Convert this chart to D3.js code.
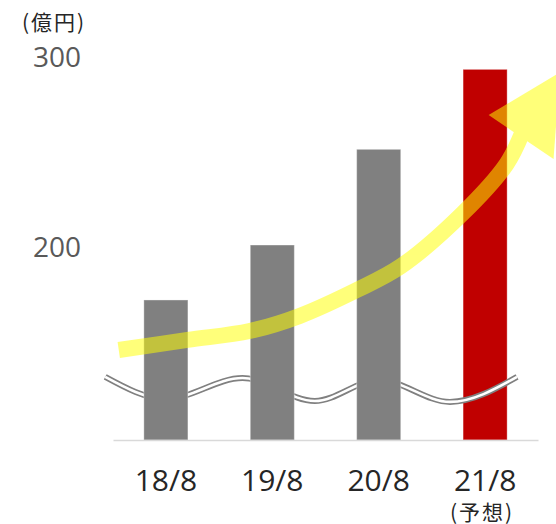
<!DOCTYPE html>
<html>
<head>
<meta charset="utf-8">
<script src="https://cdn.jsdelivr.net/npm/d3@7"></script>
<style>
  body { margin: 0; background: #fff; }
</style>
</head>
<body>
<div id="chartDiv"></div>
<script>

var categories = ["18/8", "19/8", "20/8", "21/8"];
var values = [172.3, 201.3, 251.8, 294.0];
var forecast = [false, false, false, true];
var yTicks = [200, 300];
var unitLabel = "(億円)";
var noteLabel = "(予想)";

// break mark across the axis (category position, value)
var waveIdx = [-0.57, 0, 0.72, 1.40, 2.0, 2.67, 3.30];
var waveVal = [131.7, 120.1, 131.1, 119.0, 130.1, 118.5, 131.7];

// growth arrow (category position, value)
var arrowIdx = [-0.443, 0.204, 0.787, 1.257, 1.792, 2.206, 2.789, 3.202, 3.345];
var arrowVal = [145.9, 151.2, 155.9, 163.9, 177.5, 190.0, 218.0, 244.1, 260.0];
var headIdx = [3.033, 3.704, 3.643];
var headVal = [269.9, 292.5, 246.7];

var svg = d3.select("#chartDiv").append("svg")
    .attr("width", 556)
    .attr("height", 524);

var x = d3.scaleBand()
    .domain(categories)
    .range([113, 538])
    .paddingInner(0.586)
    .paddingOuter(0.29);

var y = d3.scaleLinear()
    .domain([98.4, 300])
    .range([440, 58]);

function pos(i) {
  return x(categories[0]) + x.bandwidth() / 2 + i * x.step();
}

var bars = categories.map(function(c, i) { return {cat: c, v: values[i], f: forecast[i]}; });

function drawBars(g, data) {
  g.selectAll("rect").data(data).enter().append("rect")
    .attr("x", function(d) { return x(d.cat); })
    .attr("y", function(d) { return y(d.v); })
    .attr("width", x.bandwidth())
    .attr("height", function(d) { return y.range()[0] - y(d.v); })
    .attr("fill", function(d) { return d.f ? "#c00000" : "#808080"; })
    .attr("stroke", "#fff")
    .attr("stroke-opacity", 0.35)
    .attr("stroke-width", 1);
}

// forecast bar sits under the break mark, the others above it
drawBars(svg.append("g"), bars.filter(function(d) { return d.f; }));

var wave = d3.line()
    .x(function(d, i) { return pos(waveIdx[i]); })
    .y(function(d) { return y(d); })
    .curve(d3.curveMonotoneX);

var waveG = svg.append("g").attr("fill", "none");
waveG.append("path").attr("d", wave(waveVal)).attr("stroke", "#808080").attr("stroke-width", 6);
waveG.append("path").attr("d", wave(waveVal)).attr("stroke", "#fff").attr("stroke-width", 2.6);

drawBars(svg.append("g"), bars.filter(function(d) { return !d.f; }));

// axes
var xAxis = svg.append("g")
    .attr("transform", "translate(0,440)")
    .call(d3.axisBottom(x).tickSize(0).tickSizeOuter(0).tickPadding(30));
xAxis.select(".domain").attr("stroke", "#d9d9d9").attr("stroke-width", 1.5);
xAxis.selectAll("text")
    .attr("font-family", "'Open Sans', sans-serif")
    .attr("font-size", 30)
    .attr("fill", "#262626");

var yAxis = svg.append("g")
    .attr("transform", "translate(81,0)")
    .call(d3.axisLeft(y).tickValues(yTicks).tickSize(0).tickPadding(0));
yAxis.select(".domain").remove();
yAxis.selectAll("text")
    .attr("font-family", "'Open Sans', sans-serif")
    .attr("font-size", 28)
    .attr("fill", "#595959");

svg.append("text")
    .attr("x", 22)
    .attr("y", 30)
    .attr("font-family", "'Noto Sans CJK JP', sans-serif")
    .attr("font-size", 21)
    .attr("letter-spacing", 2)
    .attr("fill", "#262626")
    .text(unitLabel);

svg.append("text")
    .attr("x", pos(3) - 3)
    .attr("y", 520)
    .attr("text-anchor", "middle")
    .attr("font-family", "'Noto Sans CJK JP', sans-serif")
    .attr("font-size", 21)
    .attr("letter-spacing", 2)
    .attr("fill", "#262626")
    .text(noteLabel);

// arrow
var arrowG = svg.append("g").attr("opacity", 0.52);

var shaft = d3.line()
    .x(function(d, i) { return pos(arrowIdx[i]); })
    .y(function(d) { return y(d); })
    .curve(d3.curveCatmullRom);

arrowG.append("path")
    .attr("d", shaft(arrowVal))
    .attr("fill", "none")
    .attr("stroke", "#ffff00")
    .attr("stroke-width", 16);

arrowG.append("polygon")
    .attr("points", headVal.map(function(v, i) { return pos(headIdx[i]) + "," + y(v); }).join(" "))
    .attr("fill", "#ffff00");

</script>
</body>
</html>
